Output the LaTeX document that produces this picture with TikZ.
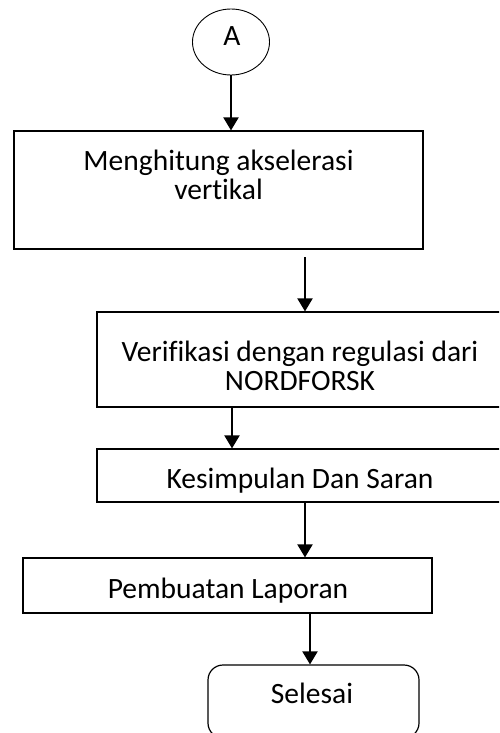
\documentclass[tikz,border=0pt]{standalone}
\usepackage{fontspec}
\setmainfont{Carlito}[Ligatures=CommonOff]
\usetikzlibrary{shapes.geometric,arrows.meta}
\begin{document}
\begin{tikzpicture}[x=1pt,y=-1pt,>={Triangle[length=13pt,width=15pt]},
    box/.style={draw,line width=1.2pt,inner sep=0pt},
    txt/.style={align=center,inner sep=0pt,anchor=base},
    flow/.style={->,line width=2pt},
    font=\fontsize{29.5}{28.5}\selectfont]
    \clip (0,0) rectangle (499,733);

    % Draw the connector A
    \node[draw,ellipse,line width=0.9pt,minimum width=77pt,minimum height=66pt,inner sep=0pt] (A) at (231,42) {};
    \node[txt] (Atxt) at (232,46) {A};

    % Draw the process boxes
    \node[box,minimum width=409pt,minimum height=118pt] (hitung) at (218.5,190) {};
    \node[txt] (hitungtxt) at (218.5,199) {Menghitung akselerasi\\vertikal};

    \node[box,minimum width=408pt,minimum height=95pt] (verif) at (301,359.5) {};
    \node[txt] (veriftxt) at (300,390) {Verifikasi dengan regulasi dari\\NORDFORSK};

    \node[box,minimum width=406pt,minimum height=53pt] (simpul) at (300,475.5) {};
    \node[txt] (simpultxt) at (300,488) {Kesimpulan Dan Saran};

    \node[box,minimum width=409pt,minimum height=55pt] (lapor) at (227.5,585.5) {};
    \node[txt] (laportxt) at (228,598) {Pembuatan Laporan};

    % Draw the end terminal
    \node[box,rounded corners=15pt,minimum width=211pt,minimum height=73pt] (selesai) at (313.5,701.5) {};
    \node[txt] (selesaitxt) at (312,703) {Selesai};

    % Draw the arrows
    \coordinate (free) at (305,257);
    \draw[flow] (A.south) -- (A.south |- hitung.north);
    \draw[flow] (free) -- (free |- verif.north);
    \draw[flow] (verif.south -| 232,0) -- (simpul.north -| 232,0);
    \draw[flow] (simpul.south -| 305,0) -- (lapor.north -| 305,0);
    \draw[flow] (lapor.south -| 310,0) -- (selesai.north -| 310,0);
\end{tikzpicture}
\end{document}
